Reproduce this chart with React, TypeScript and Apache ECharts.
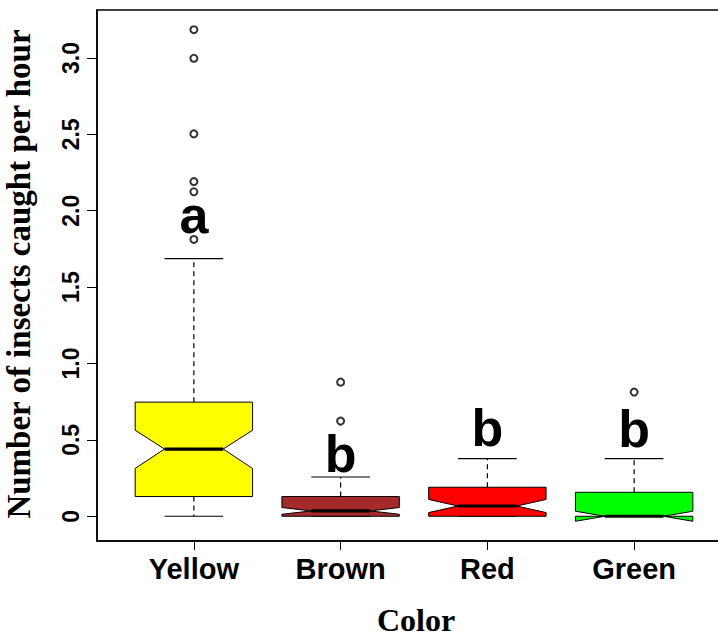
import React, { useEffect, useRef } from "react";
import * as echarts from "echarts";

// ---- data ----
const categories = ["Yellow", "Brown", "Red", "Green"];
const boxColors = ["#FFFF00", "#A52A2A", "#FF0000", "#00FF00"];
const lowerWhisker = [0, 0, 0, 0];
const q1 = [0.129, 0, 0, 0];
const notchLow = [0.313, 0.013, 0.024, -0.033];
const median = [0.44, 0.035, 0.067, 0];
const notchHigh = [0.563, 0.057, 0.11, 0.033];
const q3 = [0.747, 0.129, 0.19, 0.157];
const upperWhisker = [1.687, 0.257, 0.377, 0.377];
const outlierGroup = [1, 1, 1, 1, 1, 1, 2, 2, 4];
const outlierValues = [3.185, 2.998, 2.503, 2.191, 2.124, 1.812, 0.878, 0.623, 0.813];
const sigLetters = ["a", "b", "b", "b"];
const sigLetterBaseline = [1.854, 0.288, 0.46, 0.455];
const yTicks = [0, 0.5, 1, 1.5, 2, 2.5, 3];
const xTicks = [1, 2, 3, 4];
const yTitle = "Number of insects caught per hour";
const xTitle = "Color";

const SANS = "Liberation Sans, Arial, sans-serif";
const SERIF = "Liberation Serif, Times New Roman, serif";

export default function App() {
  const ref = useRef<HTMLDivElement>(null);
  useEffect(() => {
    if (!ref.current) return;
    const chart = echarts.init(ref.current, null, { renderer: "svg" });
    const boxData = categories.map((_, i) => [
      i + 1,
      lowerWhisker[i],
      q1[i],
      notchLow[i],
      median[i],
      notchHigh[i],
      q3[i],
      upperWhisker[i],
    ]);
    const outlierData = outlierValues.map((v, i) => [outlierGroup[i], v]);
    const letterData = sigLetters.map((_, i) => [i + 1, sigLetterBaseline[i]]);

    const option: any = {
      animation: false,
      backgroundColor: "#fff",
      grid: {
        left: 97,
        top: 10,
        width: 634,
        height: 531,
        show: true,
        borderColor: "#000",
        borderWidth: 1.5,
        backgroundColor: "transparent",
      },
      xAxis: {
        type: "value",
        min: 0.34,
        max: 4.66,
        splitLine: { show: false },
        axisLine: { onZero: false, lineStyle: { color: "#000", width: 1.5 } },
        axisTick: { customValues: xTicks, length: 9, lineStyle: { color: "#000", width: 1 } },
        axisLabel: {
          customValues: xTicks,
          formatter: (v: number) => categories[Math.round(v) - 1] ?? "",
          color: "#000",
          fontFamily: SANS,
          fontWeight: "bold",
          fontSize: 29,
          margin: 13,
        },
      },
      yAxis: {
        type: "value",
        min: -0.162,
        max: 3.314,
        splitLine: { show: false },
        axisLine: { onZero: false, lineStyle: { color: "#000", width: 1.5 } },
        axisTick: { customValues: yTicks, length: 10, lineStyle: { color: "#000", width: 1 } },
        axisLabel: {
          customValues: yTicks,
          rotate: 90,
          formatter: (v: number) => (v === 0 ? "0" : v.toFixed(1)),
          color: "#000",
          fontFamily: SANS,
          fontWeight: "bold",
          fontSize: 23,
          margin: 15,
        },
      },
      graphic: [
        {
          type: "text",
          x: 18.5,
          y: 274,
          rotation: Math.PI / 2,
          style: {
            text: yTitle,
            fill: "#000",
            font: `bold 33px ${SERIF}`,
            textAlign: "center",
            textVerticalAlign: "middle",
            align: "center",
            verticalAlign: "middle",
          },
        },
        {
          type: "text",
          x: 416,
          y: 620,
          style: {
            text: xTitle,
            fill: "#000",
            font: `bold 32px ${SERIF}`,
            textAlign: "center",
            textVerticalAlign: "middle",
            align: "center",
            verticalAlign: "middle",
          },
        },
      ],
      series: [
        {
          type: "custom",
          data: boxData,
          z: 2,
          renderItem: (params: any, api: any) => {
            const x = api.value(0);
            const hw = 0.4;
            const P = (dx: number, v: number) => api.coord([x + dx, v]);
            const lw = api.value(1),
              b1 = api.value(2),
              nl = api.value(3),
              md = api.value(4),
              nh = api.value(5),
              b3 = api.value(6),
              uw = api.value(7);
            const color = boxColors[params.dataIndex];
            const pts = [
              P(-hw, b1), P(-hw, nl), P(-hw / 2, md), P(-hw, nh), P(-hw, b3),
              P(hw, b3), P(hw, nh), P(hw / 2, md), P(hw, nl), P(hw, b1),
            ];
            const seg = (a: number[], b: number[], style: any) => ({
              type: "line",
              shape: { x1: a[0], y1: a[1], x2: b[0], y2: b[1] },
              style: Object.assign({ stroke: "#000", lineWidth: 1.2 }, style),
            });
            return {
              type: "group",
              children: [
                seg(P(0, b3), P(0, uw), { lineDash: [5, 4] }),
                seg(P(0, b1), P(0, lw), { lineDash: [5, 4] }),
                seg(P(-hw / 2, uw), P(hw / 2, uw), {}),
                seg(P(-hw / 2, lw), P(hw / 2, lw), {}),
                {
                  type: "polygon",
                  shape: { points: pts },
                  style: { fill: color, stroke: "#000", lineWidth: 1 },
                },
                seg(P(-hw / 2, md), P(hw / 2, md), { lineWidth: 3.2 }),
              ],
            };
          },
        },
        {
          type: "scatter",
          data: outlierData,
          z: 3,
          symbol: "emptyCircle",
          symbolSize: 7,
          itemStyle: { color: "#000", borderColor: "#000", borderWidth: 1.4 },
        },
        {
          type: "custom",
          data: letterData,
          z: 4,
          renderItem: (params: any, api: any) => {
            const c = api.coord([api.value(0), api.value(1)]);
            const fs = 52;
            return {
              type: "text",
              x: c[0],
              y: c[1] - 0.3465 * fs,
              style: {
                text: sigLetters[params.dataIndex],
                fill: "#000",
                font: `bold ${fs}px ${SANS}`,
                textAlign: "center",
                textVerticalAlign: "middle",
                align: "center",
                verticalAlign: "middle",
              },
            };
          },
        },
      ],
    };
    chart.setOption(option);
    return () => chart.dispose();
  }, []);
  return (
    <div
      style={{
        position: "fixed",
        left: 0,
        top: 0,
        width: 718,
        height: 638,
        overflow: "hidden",
        background: "#fff",
      }}
    >
      <div ref={ref} style={{ width: 740, height: 638 }} />
    </div>
  );
}
